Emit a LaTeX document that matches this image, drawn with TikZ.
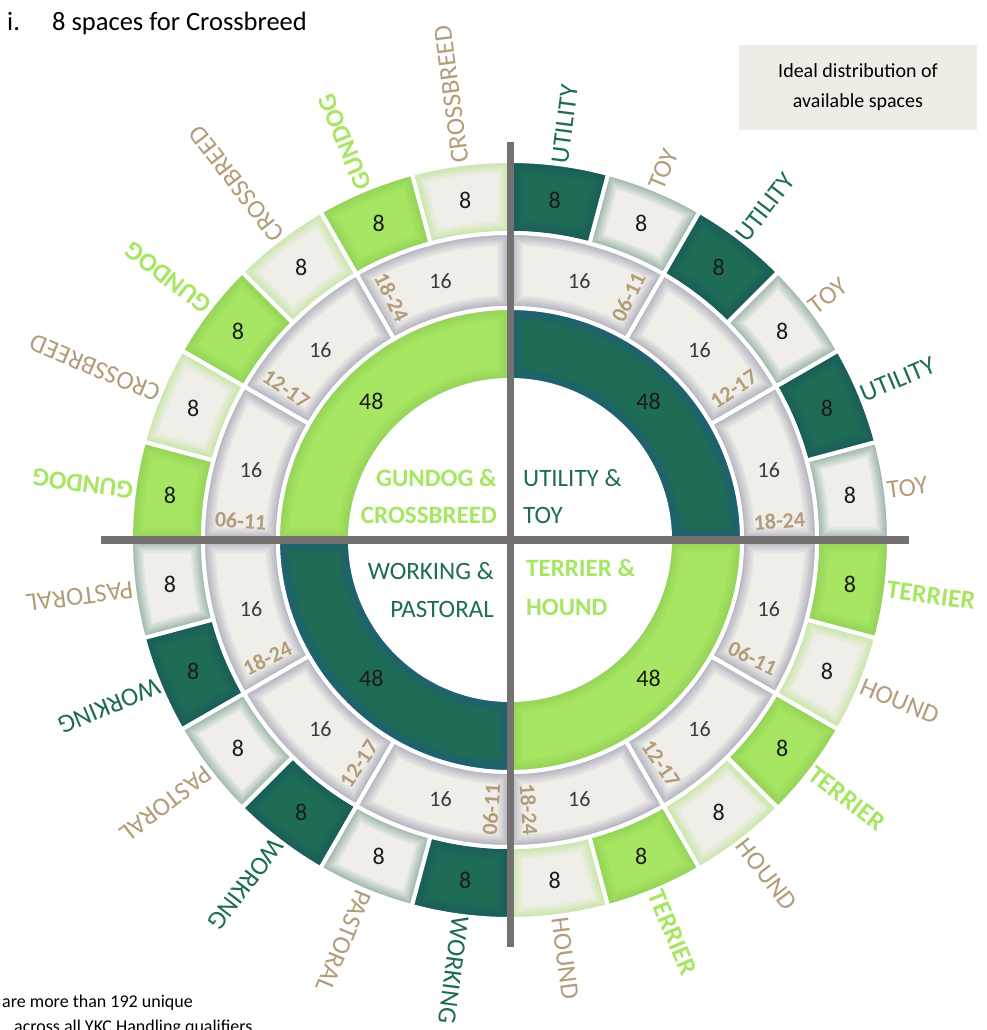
\documentclass[tikz,border=0pt]{standalone}
\usepackage{fontspec}
\setmainfont{Carlito}
\usepackage{tikz}
\usetikzlibrary{calc}
\definecolor{darkgr}{HTML}{1E6B56}
\definecolor{darkedge}{HTML}{1A5C5A}
\definecolor{lightgr}{HTML}{A6E662}
\definecolor{lightedge}{HTML}{94D159}
\definecolor{paper}{HTML}{F0EEE9}
\definecolor{glowdark}{HTML}{98B3A8}
\definecolor{glowlight}{HTML}{C6E6A6}
\definecolor{ringshade}{HTML}{AEAFBD}
\definecolor{tealedge}{HTML}{1F5E78}
\definecolor{breedtan}{HTML}{B39C7A}
\definecolor{axisgray}{HTML}{767171}
\definecolor{boxfill}{HTML}{EFECE5}
\definecolor{numblack}{HTML}{1C1C1C}
\definecolor{numgray}{HTML}{3B3B3B}

\newcommand{\ringpart}[6]{%
  \pgfmathsetmacro\ri{#3+#5}\pgfmathsetmacro\ro{#4-#5}%
  \pgfmathsetmacro\bi{asin(#5/\ri)}\pgfmathsetmacro\bo{asin(#5/\ro)}%
  \fill[#6] ({#1+\bi}:\ri pt) arc[start angle={#1+\bi},end angle={#2-\bi},radius=\ri pt]
    -- ({#2-\bo}:\ro pt) arc[start angle={#2-\bo},end angle={#1+\bo},radius=\ro pt] -- cycle;}
\newcommand{\glowpart}[6]{%
  \foreach \k in {0,...,7}{\pgfmathtruncatemacro\p{100*\k/7}\ringpart{#1}{#2}{#3}{#4}{1.8*\k}{#6!\p!#5}}%
  \draw[white,line width=4pt] (#1:#3pt) arc[start angle=#1,end angle=#2,radius=#3pt]
    -- (#2:#4pt) arc[start angle=#2,end angle=#1,radius=#4pt] -- cycle;}

\begin{document}
\begin{tikzpicture}[x=1pt,y=1pt,
  num/.style={font=\fontsize{24}{24}\selectfont, text=numblack, inner sep=0pt},
  mid num/.style={font=\fontsize{22}{22}\selectfont, text=numgray, inner sep=0pt},
  age/.style={font=\fontsize{22}{22}\selectfont\bfseries, text=breedtan, inner sep=0pt},
  breed/.style={anchor=west, inner sep=3pt},
  breed dark/.style={breed, text=darkgr, font=\fontsize{26}{26}\selectfont},
  breed tan/.style={breed, text=breedtan, font=\fontsize{26}{26}\selectfont},
  breed light/.style={breed, text=lightgr, font=\fontsize{26}{26}\selectfont\bfseries},
  group dark/.style={text=darkgr, font=\fontsize{25}{25}\selectfont, inner sep=0pt},
  group light/.style={text=lightgr, font=\fontsize{25}{25}\selectfont\bfseries, inner sep=0pt},
  body/.style={font=\fontsize{26.5}{26.5}\selectfont, inner sep=0pt, anchor=base west}]
\useasboundingbox (-510,-490) rectangle (477,540);

\foreach \a/\f/\e in {0/paper/glowdark,15/darkgr/darkedge,30/paper/glowdark,45/darkgr/darkedge,60/paper/glowdark,75/darkgr/darkedge,
  90/paper/glowlight,105/lightgr/lightedge,120/paper/glowlight,135/lightgr/lightedge,150/paper/glowlight,165/lightgr/lightedge,
  180/paper/glowdark,195/darkgr/darkedge,210/paper/glowdark,225/darkgr/darkedge,240/paper/glowdark,255/darkgr/darkedge,
  270/paper/glowlight,285/lightgr/lightedge,300/paper/glowlight,315/lightgr/lightedge,330/paper/glowlight,345/lightgr/lightedge}
  \glowpart{\a}{\a+15}{307}{379}{\e}{\f};
\foreach \a in {0,30,...,330}
  \glowpart{\a}{\a+30}{232}{307}{ringshade}{paper};
\foreach \a/\f/\e in {0/darkgr/tealedge,90/lightgr/lightedge,180/darkgr/tealedge,270/lightgr/lightedge}
  \glowpart{\a}{\a+90}{160}{232}{\e}{\f};

\coordinate (west) at (-409,0);
\coordinate (east) at (399,0);
\coordinate (top) at (0,398);
\coordinate (bottom) at (0,-407);
\draw[axisgray, line width=8pt] (west) -- (east);
\draw[axisgray, line width=7pt] (top) -- (bottom);

\foreach \a in {0,15,...,345}
  \node[num] (out\a) at (\a+7.5:343pt) {8};
\foreach \a in {15,45,...,345}
  \node[mid num] (mid\a) at (\a:268pt) {16};
\foreach \a in {45,135,225,315}
  \node[num] (in\a) at (\a:196pt) {48};

\foreach \a/\t in {64/06-11,34/12-17,4/18-24,-26/06-11,-56/12-17,-86/18-24}
  \node[age, rotate=\a] (age\a) at (\a:270pt) {\t};
\foreach \a/\t in {116/18-24,146/12-17,176/06-11,206/18-24,236/12-17,266/06-11}
  \node[age, rotate=\a-180] (age\a) at (\a:270pt) {\t};

\foreach \a/\t/\s in {0/TOY/tan,15/UTILITY/dark,30/TOY/tan,45/UTILITY/dark,60/TOY/tan,75/UTILITY/dark,
  90/CROSSBREED/tan,105/GUNDOG/light,120/CROSSBREED/tan,135/GUNDOG/light,150/CROSSBREED/tan,165/GUNDOG/light,
  180/PASTORAL/tan,195/WORKING/dark,210/PASTORAL/tan,225/WORKING/dark,240/PASTORAL/tan,255/WORKING/dark,
  270/HOUND/tan,285/TERRIER/light,300/HOUND/tan,315/TERRIER/light,330/HOUND/tan,345/TERRIER/light}
  \node[breed \s, rotate=\a+7.5] (breed\a) at (\a+7.5:377pt) {\t};

\node[group light, anchor=base east] (gundog) at (-13,53) {GUNDOG \&};
\node[group light, anchor=base east] (crossbreed) at (-13,16) {CROSSBREED};
\node[group dark, anchor=base west] (utility) at (13,53) {UTILITY \&};
\node[group dark, anchor=base west] (toy) at (13,16) {TOY};
\node[group dark, anchor=base east] (working) at (-16,-39) {WORKING \&};
\node[group dark, anchor=base east] (pastoral) at (-16,-77) {PASTORAL};
\node[group light, anchor=base west] (terrier) at (16,-37) {TERRIER \&};
\node[group light, anchor=base west] (hound) at (16,-75) {HOUND};

\node[fill=boxfill, minimum width=238, minimum height=85, align=center,
  font=\fontsize{20}{30}\selectfont] (legend) at (348,452.5) {Ideal distribution of\\available spaces};

\node[body] (item) at (-503,509) {i.};
\node[body] (itemtext) at (-458,509) {8 spaces for Crossbreed};
\node[body, font=\fontsize{18}{18}\selectfont] (note1) at (-508,-467) {are more than 192 unique};
\node[body, font=\fontsize{18}{18}\selectfont] (note2) at (-496,-492) {across all YKC Handling qualifiers};
\end{tikzpicture}
\end{document}
